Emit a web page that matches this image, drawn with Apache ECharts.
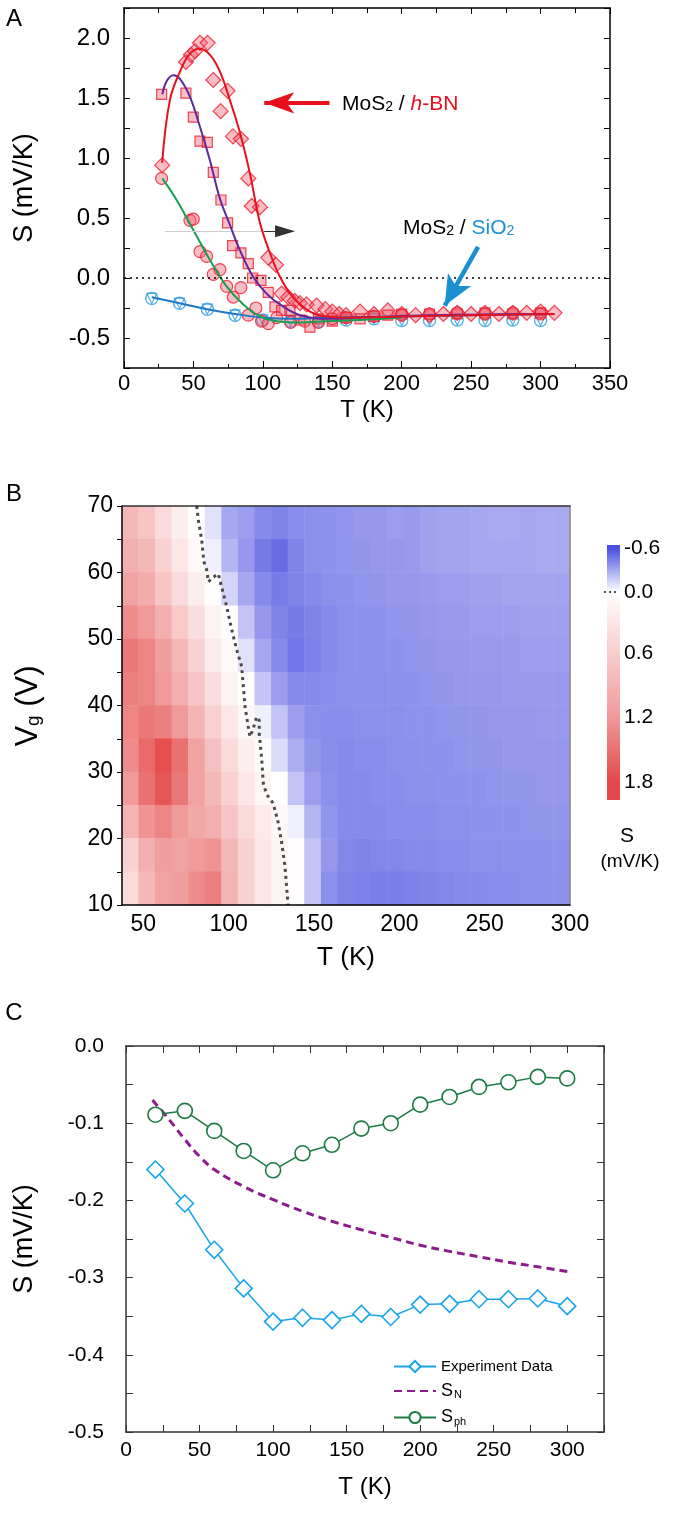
<!DOCTYPE html>
<html><head><meta charset="utf-8">
<script src="https://cdn.jsdelivr.net/npm/echarts@6/dist/echarts.min.js"></script>
<style>html,body{margin:0;padding:0;background:#fff}#c{width:677px;height:1534px}</style>
</head><body><div id="c"></div>
<script>
const FONT = '"Liberation Sans", Arial, sans-serif';

// ---------- Panel A data ----------
const hbnT = [27.5, 44.6, 48.2, 51.1, 54.7, 60.2, 64.3, 69.6, 74.6, 78.5, 84.2, 89.5, 91.9, 97.9, 103.9, 109.4, 113.5, 118.3, 123, 126.7, 131.5, 138.7, 145, 150, 155, 160, 170, 180, 190, 200, 210, 220, 230, 240, 250, 260, 270, 280, 290, 300, 310];
const hbnS = [0.94, 1.80, 1.86, 1.89, 1.96, 1.96, 1.65, 1.39, 1.56, 1.18, 1.16, 0.83, 0.60, 0.59, 0.17, 0.11, -0.13, -0.16, -0.19, -0.21, -0.22, -0.23, -0.26, -0.28, -0.30, -0.31, -0.28, -0.30, -0.27, -0.30, -0.31, -0.31, -0.30, -0.29, -0.30, -0.29, -0.30, -0.29, -0.29, -0.28, -0.29];
const sqT = [27.1, 44.6, 49.9, 54.7, 60, 64.3, 69.8, 74.6, 78.2, 84.2, 89.5, 92.6, 98.6, 103.9, 108.7, 113.5, 119.5, 126.7, 133.9, 140, 150, 160, 170, 180, 190, 200, 220, 240, 260, 280, 300];
const sqS = [1.53, 1.54, 1.34, 1.14, 1.13, 0.88, 0.65, 0.46, 0.27, 0.21, 0.12, 0.0, -0.02, -0.12, -0.24, -0.27, -0.27, -0.35, -0.41, -0.34, -0.36, -0.33, -0.34, -0.32, -0.31, -0.30, -0.30, -0.30, -0.29, -0.30, -0.29];
const cirT = [27.1, 47.5, 49.9, 54.7, 59.5, 64.3, 69.1, 73.9, 78.7, 84.2, 89.5, 95, 99.1, 103.9, 110, 120, 130, 140, 150, 160, 180, 200, 220, 240, 260, 280, 300];
const cirS = [0.83, 0.48, 0.49, 0.22, 0.18, 0.03, 0.07, -0.07, -0.16, -0.08, -0.31, -0.25, -0.36, -0.38, -0.33, -0.37, -0.36, -0.37, -0.34, -0.33, -0.32, -0.31, -0.30, -0.29, -0.30, -0.29, -0.30];
const sioT = [20, 40, 60, 80, 100, 120, 140, 160, 180, 200, 220, 240, 260, 280, 300];
const sioS = [-0.17, -0.21, -0.26, -0.31, -0.35, -0.36, -0.36, -0.35, -0.34, -0.355, -0.355, -0.35, -0.355, -0.35, -0.355];
// fitted curves
const redFitT = [27.5, 33, 40.3, 47.5, 54.7, 61.9, 69.1, 76.3, 83.5, 90.7, 97.9, 105.1, 112.3, 121.7, 134, 146, 165, 200, 250, 310];
const redFitS = [0.96, 1.48, 1.72, 1.87, 1.91, 1.86, 1.72, 1.48, 1.21, 0.87, 0.46, 0.21, 0.01, -0.16, -0.28, -0.32, -0.33, -0.32, -0.31, -0.30];
const purFitT = [27.6, 30.7, 35.5, 40.3, 47.5, 54.7, 61.9, 69.1, 76, 83.5, 93, 102.7, 112.3, 126.7, 146, 170, 220, 310];
const purFitS = [1.53, 1.64, 1.69, 1.66, 1.51, 1.26, 0.98, 0.66, 0.45, 0.23, 0.01, -0.13, -0.22, -0.31, -0.34, -0.33, -0.31, -0.30];
const grnFitT = [27.6, 37.9, 49.9, 61.9, 73.9, 85.9, 97.9, 109.9, 126.7, 146, 170, 200];
const grnFitS = [0.83, 0.65, 0.40, 0.15, -0.07, -0.22, -0.32, -0.36, -0.37, -0.36, -0.35, -0.33];
const bluFitT = [20, 40, 60, 80, 100, 120, 150, 200, 250, 300];
const bluFitS = [-0.16, -0.21, -0.26, -0.30, -0.33, -0.34, -0.33, -0.32, -0.31, -0.30];

// ---------- Panel B data ----------
const mapT = [42.4, 52.1, 61.8, 71.5, 81.3, 91.0, 100.7, 110.4, 120.1, 129.9, 139.6, 149.3, 159.0, 168.8, 178.5, 188.2, 197.9, 207.6, 217.4, 227.1, 236.8, 246.5, 256.3, 266.0, 275.7, 285.4, 295.1];
const mapVg = [67.5, 62.5, 57.5, 52.5, 47.5, 42.5, 37.5, 32.5, 27.5, 22.5, 17.5, 12.5];
const mapS = [
  [0.85, 0.70, 0.45, 0.20, 0.02, -0.10, -0.30, -0.33, -0.40, -0.42, -0.39, -0.38, -0.37, -0.36, -0.35, -0.35, -0.33, -0.34, -0.32, -0.31, -0.31, -0.30, -0.29, -0.29, -0.30, -0.29, -0.29],
  [0.95, 0.85, 0.55, 0.30, 0.08, -0.05, -0.25, -0.35, -0.45, -0.50, -0.42, -0.38, -0.37, -0.36, -0.36, -0.35, -0.35, -0.34, -0.32, -0.31, -0.31, -0.30, -0.30, -0.30, -0.30, -0.29, -0.29],
  [1.10, 1.00, 0.70, 0.45, 0.20, 0.03, -0.15, -0.30, -0.40, -0.45, -0.42, -0.40, -0.38, -0.37, -0.36, -0.36, -0.35, -0.35, -0.34, -0.33, -0.33, -0.32, -0.32, -0.31, -0.31, -0.31, -0.31],
  [1.30, 1.20, 0.95, 0.65, 0.40, 0.15, 0.00, -0.20, -0.35, -0.42, -0.45, -0.42, -0.40, -0.38, -0.37, -0.37, -0.36, -0.36, -0.35, -0.34, -0.34, -0.33, -0.33, -0.33, -0.32, -0.32, -0.32],
  [1.45, 1.35, 1.15, 0.85, 0.55, 0.25, 0.08, -0.10, -0.30, -0.40, -0.47, -0.43, -0.40, -0.38, -0.37, -0.37, -0.37, -0.36, -0.36, -0.35, -0.35, -0.34, -0.34, -0.34, -0.33, -0.33, -0.33],
  [1.40, 1.35, 1.20, 0.95, 0.70, 0.40, 0.15, 0.00, -0.20, -0.33, -0.40, -0.40, -0.39, -0.38, -0.38, -0.38, -0.37, -0.37, -0.36, -0.36, -0.35, -0.35, -0.35, -0.34, -0.34, -0.34, -0.34],
  [1.35, 1.45, 1.40, 1.20, 0.90, 0.55, 0.30, 0.10, -0.05, -0.20, -0.33, -0.38, -0.39, -0.39, -0.38, -0.38, -0.38, -0.37, -0.37, -0.36, -0.36, -0.36, -0.35, -0.35, -0.35, -0.34, -0.34],
  [1.30, 1.55, 1.75, 1.50, 1.10, 0.75, 0.45, 0.20, 0.05, -0.12, -0.28, -0.36, -0.39, -0.40, -0.39, -0.39, -0.38, -0.38, -0.37, -0.37, -0.36, -0.36, -0.36, -0.35, -0.35, -0.35, -0.35],
  [1.20, 1.50, 1.70, 1.45, 1.10, 0.85, 0.55, 0.30, 0.12, 0.00, -0.20, -0.33, -0.38, -0.40, -0.40, -0.39, -0.39, -0.38, -0.38, -0.37, -0.37, -0.37, -0.36, -0.36, -0.36, -0.35, -0.35],
  [0.90, 1.25, 1.35, 1.20, 1.05, 0.95, 0.70, 0.45, 0.25, 0.10, -0.05, -0.25, -0.36, -0.40, -0.40, -0.40, -0.39, -0.39, -0.39, -0.38, -0.38, -0.37, -0.37, -0.37, -0.36, -0.36, -0.36],
  [0.55, 0.95, 1.15, 1.10, 1.20, 1.25, 0.85, 0.55, 0.30, 0.15, 0.02, -0.20, -0.35, -0.41, -0.42, -0.41, -0.41, -0.40, -0.40, -0.39, -0.39, -0.38, -0.38, -0.38, -0.37, -0.37, -0.37],
  [0.45, 0.85, 1.10, 1.15, 1.30, 1.40, 0.90, 0.55, 0.30, 0.15, 0.03, -0.20, -0.38, -0.42, -0.43, -0.44, -0.44, -0.43, -0.42, -0.41, -0.40, -0.40, -0.39, -0.39, -0.38, -0.38, -0.38]
];
const contourT = [81.3, 82.2, 84.2, 85.5, 87.1, 88.1, 91.0, 93.9, 95.9, 98.8, 101.8, 104.7, 107.6, 108.6, 109.6, 111.5, 112.5, 114.1, 116.4, 117.9, 117.9, 119.4, 120.3, 122.3, 126.1, 129.1, 131.1, 133.0, 134.8];
const contourVg = [70.0, 67.9, 64.9, 61.6, 60.4, 58.6, 59.3, 59.8, 57.8, 54.9, 51.4, 48.4, 45.9, 42.8, 39.8, 36.8, 35.3, 36.3, 38.3, 37.8, 35.8, 31.8, 28.3, 26.6, 25.3, 22.3, 19.3, 15.8, 10.0];
const bTicks = [50, 100, 150, 200, 250, 300];
const cbarTicks = ['-0.6', '0.0', '0.6', '1.2', '1.8'];
const cbarColors = ['#4a4fe0', '#ffffff', '#f8cdcd', '#f09a9a', '#e44848'];

// ---------- Panel C data ----------
const cT = [20, 40, 60, 80, 100, 120, 140, 160, 180, 200, 220, 240, 260, 280, 300];
const expS = [-0.16, -0.204, -0.264, -0.314, -0.357, -0.352, -0.355, -0.347, -0.351, -0.335, -0.334, -0.328, -0.328, -0.327, -0.337];
const sphS = [-0.089, -0.084, -0.110, -0.136, -0.161, -0.139, -0.128, -0.107, -0.100, -0.076, -0.066, -0.053, -0.047, -0.040, -0.042];
const snT = [18, 30, 40, 50, 60, 80, 100, 120, 140, 160, 180, 200, 220, 240, 260, 280, 300];
const snS = [-0.070, -0.097, -0.121, -0.143, -0.160, -0.182, -0.199, -0.214, -0.227, -0.238, -0.248, -0.258, -0.266, -0.273, -0.280, -0.286, -0.292];

const zip = (a, b) => a.map((v, i) => [v, b[i]]);
const fmt1 = v => (Math.abs(v) < 1e-9 ? 0 : v).toFixed(1);

const chart = echarts.init(document.getElementById('c'), null, {renderer: 'canvas', width: 677, height: 1534});

const tickFont = {fontFamily: FONT, color: '#000'};
function boxAxis(extra) { return Object.assign({splitLine: {show: false}, axisLine: {show: true, onZero: false, lineStyle: {color: '#000', width: 1.5}}}, extra); }

const redMark = {color: 'rgba(240,90,110,0.5)', borderColor: '#ec1c2e', borderWidth: 1.2};

const heatData = [];
mapS.forEach((row, j) => row.forEach((v, i) => heatData.push([i, mapVg.length - 1 - j, v])));

const option = {
  animation: false,
  backgroundColor: '#fff',
  textStyle: {fontFamily: FONT},
  grid: [
    {left: 124, top: 8, width: 486, height: 360},
    {left: 122, top: 506, width: 448, height: 399},
    {left: 126, top: 1046, width: 478, height: 386}
  ],
  xAxis: [
    boxAxis({gridIndex: 0, type: 'value', min: 0, max: 350, interval: 50, position: 'bottom',
      axisTick: {inside: true, length: 7, lineStyle: {color: '#000'}}, minorTick: {show: true, splitNumber: 2, length: 4, lineStyle: {color: '#000'}},
      axisLabel: Object.assign({fontSize: 22, margin: 5}, tickFont)}),
    boxAxis({gridIndex: 0, type: 'value', min: 0, max: 350, interval: 50, position: 'top',
      axisTick: {inside: true, length: 6, lineStyle: {color: '#000'}}, minorTick: {show: true, splitNumber: 2, length: 5, lineStyle: {color: '#000'}},
      axisLabel: {show: false}}),
    boxAxis({gridIndex: 1, type: 'value', min: 37.5, max: 300, interval: 12.5, position: 'bottom', z: 10,
      axisTick: {show: false, customValues: bTicks},
      axisLabel: Object.assign({fontSize: 23, margin: 8, customValues: bTicks, formatter: v => (Math.abs(v % 50) < 1e-6 ? String(v) : '')}, tickFont)}),
    {gridIndex: 1, type: 'category', data: mapT, show: false, boundaryGap: true},
    boxAxis({gridIndex: 2, type: 'value', min: 0, max: 325, interval: 50, position: 'bottom',
      axisLine: {show: true, onZero: false, lineStyle: {color: '#333', width: 1.5}},
      axisTick: {inside: true, length: 7, lineStyle: {color: '#333'}}, minorTick: {show: true, splitNumber: 2, length: 7, lineStyle: {color: '#333'}},
      axisLabel: Object.assign({fontSize: 21, margin: 8, showMaxLabel: false}, tickFont)}),
    boxAxis({gridIndex: 2, type: 'value', min: 0, max: 325, interval: 50, position: 'top',
      axisLine: {show: true, onZero: false, lineStyle: {color: '#333', width: 1.5}},
      axisTick: {inside: true, length: 7, lineStyle: {color: '#333'}}, minorTick: {show: true, splitNumber: 2, length: 7, lineStyle: {color: '#333'}},
      axisLabel: {show: false}}),
    boxAxis({gridIndex: 1, type: 'value', min: 37.5, max: 300, position: 'top', z: 10,
      axisLine: {show: true, onZero: false, lineStyle: {color: '#333', width: 1.5}}, axisTick: {show: false}, axisLabel: {show: false}})
  ],
  yAxis: [
    boxAxis({gridIndex: 0, type: 'value', min: -0.75, max: 2.25, interval: 0.25,
      axisTick: {inside: true, length: 6, lineStyle: {color: '#000'}},
      axisLabel: Object.assign({fontSize: 24, margin: 14, formatter: v => {
        const r = Math.round(v * 2) / 2; return (Math.abs(v - r) < 1e-6 && v > -0.6 && v < 2.1) ? fmt1(v) : ''; }}, tickFont)}),
    boxAxis({gridIndex: 0, type: 'value', min: -0.75, max: 2.25, interval: 0.25, position: 'right',
      axisTick: {inside: true, length: 6, lineStyle: {color: '#000'}}, axisLabel: {show: false}}),
    boxAxis({gridIndex: 1, type: 'value', min: 10, max: 70, interval: 5, z: 10,
      axisTick: {inside: false, length: 5, lineStyle: {color: '#000'}},
      axisLabel: Object.assign({fontSize: 23, margin: 9, formatter: v => (v % 10 === 0 ? String(v) : '')}, tickFont)}),
    {gridIndex: 1, type: 'category', data: mapVg.slice().reverse(), show: false, boundaryGap: true},
    boxAxis({gridIndex: 2, type: 'value', min: -0.5, max: 0, interval: 0.1,
      axisLine: {show: true, onZero: false, lineStyle: {color: '#333', width: 1.5}},
      axisTick: {inside: true, length: 7, lineStyle: {color: '#333'}}, minorTick: {show: true, splitNumber: 2, length: 7, lineStyle: {color: '#333'}},
      axisLabel: Object.assign({fontSize: 21, margin: 22, formatter: v => fmt1(v)}, tickFont)}),
    boxAxis({gridIndex: 2, type: 'value', min: -0.5, max: 0, interval: 0.1, position: 'right',
      axisLine: {show: true, onZero: false, lineStyle: {color: '#333', width: 1.5}},
      axisTick: {inside: true, length: 7, lineStyle: {color: '#333'}}, minorTick: {show: true, splitNumber: 2, length: 7, lineStyle: {color: '#333'}},
      axisLabel: {show: false}}),
    boxAxis({gridIndex: 1, type: 'value', min: 10, max: 70, position: 'right', z: 10,
      axisLine: {show: true, onZero: false, lineStyle: {color: '#888', width: 1.5}}, axisTick: {show: false}, axisLabel: {show: false}})
  ],
  visualMap: [{type: 'continuous', show: false, seriesIndex: 10, dimension: 2, min: -0.6, max: 1.8, inRange: {color: cbarColors}}],
  legend: {
    orient: 'vertical', left: 388, top: 1354, itemWidth: 42, itemHeight: 14, itemGap: 8,
    data: ['Experiment Data', {name: 'S_N', itemStyle: {opacity: 0}}, 'S_ph'],
    formatter: n => n === 'S_N' ? '{m|S}{s|N}' : n === 'S_ph' ? '{m|S}{s|ph}' : '{e|' + n + '}',
    textStyle: {fontFamily: FONT, color: '#000', rich: {
      e: {fontSize: 15, fontFamily: FONT},
      m: {fontSize: 18, fontFamily: FONT},
      s: {fontSize: 11, fontFamily: FONT, verticalAlign: 'bottom', padding: [8, 0, 0, 1]}
    }}
  },
  series: [
    // 0..4 markers panel A
    {type: 'scatter', xAxisIndex: 0, yAxisIndex: 0, symbol: 'diamond', symbolSize: 15, data: zip(hbnT, hbnS), itemStyle: redMark, z: 3},
    {type: 'scatter', xAxisIndex: 0, yAxisIndex: 0, symbol: 'rect', symbolSize: 10, data: zip(sqT, sqS), itemStyle: redMark, z: 3},
    {type: 'scatter', xAxisIndex: 0, yAxisIndex: 0, symbol: 'circle', symbolSize: 12, data: zip(cirT, cirS), itemStyle: redMark, z: 3},
    {type: 'scatter', xAxisIndex: 0, yAxisIndex: 0, symbol: 'circle', symbolSize: 12, data: zip(sioT, sioS), itemStyle: {color: 'rgba(255,255,255,0)', borderColor: '#2b9be0', borderWidth: 1.4}, z: 2},
    {type: 'scatter', xAxisIndex: 0, yAxisIndex: 0, symbol: 'triangle', symbolRotate: 180, symbolSize: 10, data: zip(sioT, sioS), itemStyle: {color: 'rgba(255,255,255,0)', borderColor: '#2b9be0', borderWidth: 1.2}, z: 2},
    // 5..8 fits
    {type: 'line', xAxisIndex: 0, yAxisIndex: 0, data: zip(bluFitT, bluFitS), smooth: 0.4, showSymbol: false, lineStyle: {color: '#1f78c4', width: 2}, z: 4,
      markLine: {silent: true, label: {show: false}, symbol: ['none', 'none'], data: [
        [{yAxis: 0, x: 124, lineStyle: {color: '#000', type: [2, 4], width: 1.6}}, {yAxis: 0, x: 610}],
        [{coord: [148, 1.46], symbol: 'none', lineStyle: {color: '#e8101c', width: 4, type: 'solid'}}, {coord: [101, 1.46], symbol: 'arrow', symbolSize: [16, 30]}],
        [{coord: [29.5, 0.39], symbol: 'none', lineStyle: {color: '#cfcfcf', width: 1, type: 'solid'}}, {coord: [102, 0.39], symbol: 'none'}],
        [{coord: [101, 0.39], symbol: 'none', lineStyle: {color: '#333', width: 1, type: 'solid'}}, {coord: [116, 0.39], symbol: 'triangle', symbolSize: [12, 20]}],
        [{coord: [255, 0.26], symbol: 'none', lineStyle: {color: '#1a8fd2', width: 4.5, type: 'solid'}}, {coord: [231, -0.23], symbol: 'arrow', symbolSize: [20, 30]}]
      ]}},
    {type: 'line', xAxisIndex: 0, yAxisIndex: 0, data: zip(grnFitT, grnFitS), smooth: 0.4, showSymbol: false, lineStyle: {color: '#17a050', width: 2}, z: 4},
    {type: 'line', xAxisIndex: 0, yAxisIndex: 0, data: zip(purFitT, purFitS), smooth: 0.4, showSymbol: false, lineStyle: {color: '#5b2a9e', width: 2}, z: 5},
    {type: 'line', xAxisIndex: 0, yAxisIndex: 0, data: zip(redFitT, redFitS), smooth: 0.4, showSymbol: false, lineStyle: {color: '#e8101c', width: 2}, z: 6},
    // 9 placeholder (keeps heatmap index 10)
    {type: 'line', xAxisIndex: 2, yAxisIndex: 2, data: [], showSymbol: false},
    // 10 heatmap
    {type: 'heatmap', xAxisIndex: 3, yAxisIndex: 3, data: heatData, itemStyle: {borderWidth: 0}, z: 1},
    // 11 contour
    {type: 'line', xAxisIndex: 2, yAxisIndex: 2, data: zip(contourT, contourVg), showSymbol: false, lineStyle: {color: '#4a4a4a', width: 3, type: [3, 4]}, z: 5},
    // 12..14 panel C
    {name: 'Experiment Data', type: 'line', xAxisIndex: 4, yAxisIndex: 4, data: zip(cT, expS), symbol: 'diamond', symbolSize: 17,
      lineStyle: {color: '#18a4ec', width: 1.5}, itemStyle: {color: '#fff', borderColor: '#18a4ec', borderWidth: 1.6}, z: 4},
    {name: 'S_N', type: 'line', xAxisIndex: 4, yAxisIndex: 4, data: zip(snT, snS), smooth: 0.4, showSymbol: false, symbol: 'none',
      lineStyle: {color: '#8c1c8c', width: 3, type: [8, 5]}, itemStyle: {color: '#8c1c8c'}, z: 3},
    {name: 'S_ph', type: 'line', xAxisIndex: 4, yAxisIndex: 4, data: zip(cT, sphS), symbol: 'circle', symbolSize: 15,
      lineStyle: {color: '#1c7a44', width: 1.5}, itemStyle: {color: '#fff', borderColor: '#1c7a44', borderWidth: 1.6}, z: 4}
  ],
  graphic: []
};

// texts and color bar
const g = option.graphic;
const txt = (text, x, y, size, rot) => g.push({type: 'text', x, y, rotation: rot || 0, style: {text, fontSize: size, fontFamily: FONT, fill: '#000', align: 'center', verticalAlign: 'middle'}});
txt('A', 14, 19, 24);
txt('B', 14, 494, 24);
txt('C', 14, 1013, 24);
txt('S (mV/K)', 25, 188, 27, Math.PI / 2);
txt('T (K)', 367, 410, 24);
txt('T (K)', 346, 958, 26);
txt('S (mV/K)', 25, 1239, 27, Math.PI / 2);
txt('T (K)', 365, 1487, 24);
g.push({type: 'text', x: 28, y: 706, rotation: Math.PI / 2, style: {text: '{a|V}{b|g}{a| (V)}', align: 'center', verticalAlign: 'middle',
  rich: {a: {fontSize: 31, fontFamily: FONT, fill: '#000'}, b: {fontSize: 19, fontFamily: FONT, fill: '#000', verticalAlign: 'bottom', padding: [12, 0, 0, 0]}}}});
g.push({type: 'text', x: 342, y: 104, style: {text: '{k|MoS}{s|2}{k| / }{i|h}{r|-BN}', align: 'left', verticalAlign: 'middle',
  rich: {k: {fontSize: 21, fontFamily: FONT, fill: '#000'}, s: {fontSize: 14, fontFamily: FONT, fill: '#000', verticalAlign: 'bottom', padding: [4, 0, 0, 0]},
    i: {fontSize: 21, fontFamily: FONT, fill: '#e8101c', fontStyle: 'italic'}, r: {fontSize: 21, fontFamily: FONT, fill: '#e8101c'}}}});
g.push({type: 'text', x: 403, y: 228, style: {text: '{k|MoS}{s|2}{k| / }{b|SiO}{t|2}', align: 'left', verticalAlign: 'middle',
  rich: {k: {fontSize: 21, fontFamily: FONT, fill: '#000'}, s: {fontSize: 14, fontFamily: FONT, fill: '#000', verticalAlign: 'bottom', padding: [4, 0, 0, 0]},
    b: {fontSize: 21, fontFamily: FONT, fill: '#1f90d2'}, t: {fontSize: 14, fontFamily: FONT, fill: '#1f90d2', verticalAlign: 'bottom', padding: [4, 0, 0, 0]}}}});
// color bar (legend for the heatmap)
const cbTop = 545, cbBot = 800, cbY = [548, 592, 653, 717, 782];
g.push({type: 'rect', shape: {x: 607, y: cbTop, width: 13, height: cbBot - cbTop}, style: {fill: new echarts.graphic.LinearGradient(0, 0, 0, 1,
  cbY.map((y, i) => ({offset: (y - cbTop) / (cbBot - cbTop), color: cbarColors[i]})).concat([{offset: 0, color: cbarColors[0]}, {offset: 1, color: cbarColors[4]}]).sort((a, b) => a.offset - b.offset))}});
g.push({type: 'line', shape: {x1: 604, y1: 592, x2: 619, y2: 592}, style: {stroke: '#555', lineWidth: 2, lineDash: [2, 3]}});
cbarTicks.forEach((t, i) => g.push({type: 'text', x: 624, y: cbY[i], style: {text: t, fontSize: 21, fontFamily: FONT, fill: '#000', align: 'left', verticalAlign: 'middle'}}));
txt('S', 627, 836, 21);
txt('(mV/K)', 630, 862, 19);

chart.setOption(option);
</script></body></html>
